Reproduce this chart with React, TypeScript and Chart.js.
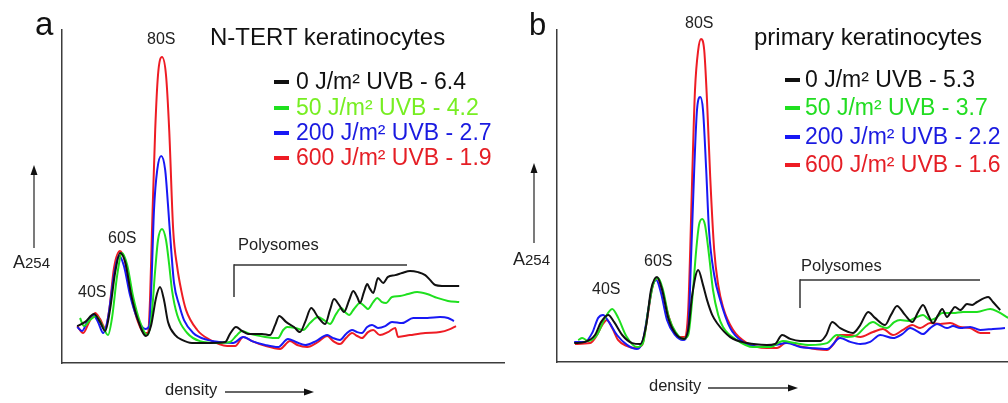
import React, { useEffect, useRef } from 'react';
import { Chart, registerables } from 'chart.js';

Chart.register(...registerables);

const FONT = '"Liberation Sans", Arial, Helvetica, sans-serif';

// ---------- Panel a: N-TERT keratinocytes (density, A254 in arbitrary units) ----------
const aBlackX = [3.8, 5.8, 8.0, 9.5, 10.8, 12.0, 13.3, 14.5, 15.8, 17.3, 19.0, 21.0, 22.3, 23.5, 24.5, 25.5, 26.5, 28.3, 30.0, 32.5, 37.0, 40.8, 42.0, 43.5, 45.0, 46.5, 50.0, 52.0, 53.3, 54.3, 56.0, 58.0, 59.5, 60.8, 62.3, 64.0, 65.8, 67.0, 68.0, 69.3, 70.5, 71.8, 72.8, 73.8, 74.5, 75.5, 76.3, 77.0, 77.8, 79.0, 80.3, 81.5, 83.3, 85.0, 87.0, 89.0, 90.8, 92.0, 93.3, 95.0, 99.3];
const aBlackY = [12.3, 13.7, 16.3, 13.7, 10.7, 17.7, 30.3, 36.7, 33.7, 22.7, 14.3, 9.0, 12.7, 21.7, 25.3, 21.0, 13.7, 9.3, 7.7, 6.7, 6.7, 7.0, 9.7, 12.0, 10.7, 9.7, 9.7, 9.3, 12.7, 15.7, 13.7, 12.0, 10.3, 13.7, 18.3, 15.3, 13.0, 17.7, 21.3, 19.3, 17.0, 21.0, 24.0, 22.0, 20.0, 23.7, 26.3, 24.7, 23.3, 28.3, 26.7, 28.7, 29.3, 30.0, 30.7, 30.3, 29.3, 27.7, 26.0, 25.7, 25.7];

const aGreenX = [4.5, 5.5, 7.0, 8.5, 10.0, 11.5, 12.5, 13.8, 15.0, 16.3, 17.8, 19.5, 21.3, 22.3, 23.3, 24.0, 25.0, 26.0, 26.8, 27.5, 28.8, 31.3, 34.5, 38.8, 42.0, 43.5, 45.0, 47.0, 50.8, 54.0, 55.3, 56.3, 58.3, 60.3, 62.0, 64.0, 65.5, 67.0, 68.5, 69.8, 71.0, 71.8, 73.0, 74.5, 75.8, 76.5, 77.8, 78.8, 80.0, 81.0, 82.5, 84.5, 86.5, 88.8, 91.3, 93.8, 96.5, 99.3];
const aGreenY = [15.0, 12.3, 14.3, 15.7, 12.7, 9.3, 15.0, 29.3, 36.7, 32.7, 22.0, 13.7, 9.3, 14.3, 31.0, 41.0, 44.7, 41.0, 32.7, 24.3, 16.0, 10.0, 7.3, 6.7, 7.0, 9.0, 10.7, 9.7, 8.7, 8.3, 11.0, 12.0, 11.7, 11.0, 13.3, 15.3, 14.3, 13.0, 16.3, 18.3, 16.7, 16.0, 18.0, 20.0, 18.7, 18.0, 20.3, 21.7, 20.3, 20.0, 22.0, 22.3, 23.0, 23.7, 23.0, 21.7, 20.7, 20.3];

const aBlueX = [3.8, 5.0, 6.5, 7.8, 9.0, 10.3, 11.5, 13.0, 14.3, 15.5, 17.0, 18.8, 20.8, 21.8, 22.3, 23.0, 23.8, 24.8, 25.8, 26.5, 27.3, 28.0, 29.3, 30.5, 32.8, 36.3, 39.5, 42.8, 45.3, 47.5, 50.8, 54.0, 56.5, 58.5, 60.8, 63.5, 66.3, 67.8, 69.5, 71.0, 72.5, 73.8, 75.0, 76.3, 77.5, 79.0, 80.8, 82.5, 85.0, 87.8, 91.3, 94.5, 96.5, 98.0];
const aBlueY = [12.0, 10.7, 14.3, 16.0, 13.7, 10.0, 15.0, 29.3, 35.7, 32.3, 22.7, 15.0, 11.3, 12.3, 24.3, 51.0, 64.3, 69.0, 64.3, 52.7, 37.7, 26.7, 19.3, 14.3, 10.0, 7.7, 7.0, 6.7, 8.7, 7.3, 6.0, 5.3, 8.0, 7.0, 6.0, 7.3, 9.3, 8.3, 7.7, 9.7, 11.0, 10.3, 10.0, 12.0, 12.7, 11.7, 12.3, 13.7, 13.3, 15.0, 15.0, 15.3, 15.0, 14.0];

const aRedX = [3.8, 5.3, 6.8, 8.3, 9.5, 10.8, 11.8, 13.0, 14.5, 15.8, 17.5, 19.0, 20.5, 21.5, 22.0, 22.5, 23.3, 24.0, 25.0, 26.0, 26.8, 27.8, 28.8, 29.8, 31.0, 33.8, 37.0, 41.3, 43.3, 45.3, 47.5, 50.8, 54.5, 57.0, 58.8, 61.3, 64.0, 66.3, 67.8, 69.5, 71.0, 72.5, 73.8, 75.0, 76.5, 77.8, 79.5, 81.5, 83.3, 84.0, 87.0, 90.8, 94.5, 97.0, 98.5];
const aRedY = [12.3, 10.0, 13.7, 16.7, 14.7, 11.7, 17.7, 31.7, 37.3, 33.7, 21.0, 13.7, 10.0, 10.0, 21.0, 44.3, 77.7, 96.0, 102.0, 96.0, 77.7, 44.3, 32.0, 24.3, 17.7, 11.0, 7.7, 5.7, 5.7, 8.7, 7.3, 5.7, 4.7, 7.3, 6.0, 5.3, 7.0, 9.0, 7.3, 6.3, 8.3, 10.0, 9.0, 8.3, 10.3, 11.0, 9.3, 10.3, 11.7, 8.7, 9.3, 10.0, 10.3, 11.3, 12.3];

// ---------- Panel b: primary keratinocytes ----------
const bBlackX = [4.3, 7.0, 9.5, 11.0, 12.8, 14.3, 16.3, 18.8, 20.8, 22.3, 23.5, 25.0, 26.3, 27.8, 29.5, 31.8, 32.8, 33.8, 35.3, 36.5, 37.5, 38.8, 40.0, 43.3, 47.5, 52.5, 54.5, 56.3, 58.3, 60.8, 65.8, 67.3, 68.8, 70.8, 74.0, 75.8, 77.8, 79.5, 82.0, 83.5, 85.0, 87.0, 88.8, 90.3, 91.5, 92.8, 94.0, 95.3, 96.3, 97.5, 98.5, 99.5, 100.8, 102.5, 103.8, 105.0, 107.8, 109.0, 110.8];
const bBlackY = [6.3, 6.7, 9.0, 13.3, 15.7, 13.3, 9.0, 6.3, 6.0, 12.3, 24.0, 28.3, 24.0, 14.7, 9.7, 7.7, 10.7, 22.3, 30.7, 25.7, 20.7, 15.7, 13.0, 8.3, 6.3, 5.7, 6.0, 9.0, 7.7, 7.0, 7.0, 9.0, 13.3, 11.3, 9.7, 12.3, 16.7, 14.7, 12.3, 15.7, 18.7, 15.7, 13.3, 16.7, 19.0, 15.7, 13.0, 15.7, 17.7, 15.0, 16.7, 18.3, 17.3, 19.3, 19.0, 20.0, 21.7, 20.0, 17.3];

const bGreenX = [5.3, 6.3, 7.8, 10.0, 12.0, 13.8, 15.3, 17.3, 20.0, 21.5, 22.8, 24.0, 25.3, 26.5, 28.0, 29.8, 31.5, 32.8, 33.8, 34.8, 35.5, 36.3, 37.0, 38.0, 39.0, 40.3, 41.5, 45.0, 49.0, 53.3, 56.5, 59.5, 63.3, 67.5, 70.0, 72.5, 75.0, 77.3, 79.0, 80.8, 82.5, 84.3, 85.8, 87.8, 89.5, 91.5, 93.3, 94.8, 96.3, 99.0, 101.5, 105.0, 108.3, 110.3, 112.8];
const bGreenY = [7.3, 8.0, 7.0, 9.0, 14.7, 17.7, 14.7, 8.7, 5.0, 6.3, 17.3, 25.7, 28.0, 24.0, 14.7, 9.7, 7.7, 9.0, 20.7, 37.3, 45.7, 47.7, 45.7, 35.7, 24.0, 15.7, 11.7, 7.3, 5.0, 5.0, 7.0, 6.3, 5.7, 6.3, 9.0, 8.3, 9.0, 12.0, 13.3, 12.0, 11.3, 13.3, 14.0, 13.7, 14.7, 15.7, 14.0, 14.7, 16.3, 16.3, 16.7, 16.7, 17.7, 16.7, 14.7];

const bBlueX = [4.3, 7.0, 8.8, 10.3, 11.5, 13.0, 15.0, 17.5, 20.0, 21.5, 22.8, 23.8, 24.8, 26.0, 27.5, 29.5, 31.5, 32.8, 33.5, 34.3, 35.0, 35.8, 36.5, 37.3, 38.0, 39.3, 40.8, 43.3, 46.5, 50.8, 54.5, 57.5, 60.8, 63.3, 67.5, 70.8, 73.3, 75.8, 78.3, 80.8, 84.0, 86.3, 88.3, 90.0, 91.5, 93.3, 95.0, 97.5, 99.0, 100.8, 103.3, 105.8, 109.0, 112.0];
const bBlueY = [6.7, 6.7, 9.7, 14.7, 15.7, 13.3, 9.0, 5.7, 4.3, 7.3, 17.3, 25.0, 27.3, 23.0, 14.0, 9.0, 7.3, 10.7, 34.0, 64.0, 84.0, 88.3, 84.0, 64.0, 44.0, 29.0, 20.7, 11.3, 6.7, 5.0, 5.7, 6.3, 5.0, 4.7, 4.3, 8.0, 6.7, 6.0, 6.7, 9.0, 8.0, 9.3, 11.3, 10.3, 9.3, 11.3, 12.7, 11.3, 12.0, 11.3, 11.7, 10.7, 11.0, 11.3];

const bRedX = [4.5, 8.3, 10.0, 11.3, 12.5, 13.8, 15.3, 17.5, 19.5, 21.3, 22.5, 23.8, 25.0, 26.3, 27.8, 29.5, 31.0, 32.0, 32.8, 33.3, 33.8, 34.5, 35.3, 36.0, 36.8, 37.5, 38.3, 39.3, 40.3, 41.5, 44.0, 47.5, 52.5, 55.0, 57.5, 59.5, 61.5, 67.5, 69.0, 70.8, 73.3, 75.8, 79.0, 81.5, 84.0, 86.5, 88.8, 90.8, 93.3, 95.8, 98.3, 100.8, 103.3, 105.8, 108.3];
const bRedY = [6.0, 6.3, 9.0, 12.3, 14.0, 11.3, 7.3, 5.3, 4.7, 5.7, 14.0, 24.7, 28.0, 24.0, 15.7, 9.7, 8.3, 8.3, 17.3, 37.3, 61.7, 90.7, 104.0, 107.7, 104.0, 87.3, 61.7, 37.3, 25.7, 18.3, 10.7, 6.3, 4.7, 4.7, 6.7, 5.7, 5.0, 4.0, 5.7, 9.0, 9.0, 8.3, 10.0, 11.0, 9.0, 10.7, 12.3, 11.3, 13.0, 12.7, 13.0, 11.7, 11.3, 9.7, 9.7];

// ---------- Labels ----------
const seriesColors = ['#111111', '#1fe01f', '#1818f5', '#ee1c24'];
const aTitle = 'N-TERT keratinocytes';
const bTitle = 'primary keratinocytes';
const aLegendLabels = ['0 J/m² UVB - 6.4', '50 J/m² UVB - 4.2', '200 J/m² UVB - 2.7', '600 J/m² UVB - 1.9'];
const bLegendLabels = ['0 J/m² UVB - 5.3', '50 J/m² UVB - 3.7', '200 J/m² UVB - 2.2', '600 J/m² UVB - 1.6'];
const aLegendTextColors = ['#111111', '#77ee22', '#1a1ae0', '#e51e25'];
const bLegendTextColors = ['#111111', '#22dd22', '#1a1ae0', '#e51e25'];
const peakLabels = ['40S', '60S', '80S'];
const polysomeLabel = 'Polysomes';
const xAxisLabel = 'density';

type Series = { x: number[]; y: number[] };

function ProfileChart(props: {
  left: number; width: number; height: number;
  pad: { left: number; top: number; right: number; bottom: number };
  xMax: number; yMax: number; series: Series[];
}) {
  const ref = useRef<HTMLCanvasElement | null>(null);
  useEffect(() => {
    if (!ref.current) return;
    const chart = new Chart(ref.current, {
      type: 'line',
      data: {
        datasets: props.series.map((s, i) => ({
          data: s.x.map((x, j) => ({ x, y: s.y[j] })),
          borderColor: seriesColors[i],
          borderWidth: 2,
          pointRadius: 0,
          fill: false,
          cubicInterpolationMode: 'monotone' as const,
        })),
      },
      options: {
        animation: false,
        responsive: false,
        events: [],
        layout: { padding: props.pad },
        plugins: { legend: { display: false }, tooltip: { enabled: false } },
        scales: {
          x: {
            type: 'linear', min: 0, max: props.xMax,
            grid: { display: false, drawTicks: false },
            border: { display: true, color: '#3c3c3c', width: 1.5 },
            ticks: { display: false },
          },
          y: {
            type: 'linear', min: 0, max: props.yMax,
            grid: { display: false, drawTicks: false },
            border: { display: true, color: '#3c3c3c', width: 1.5 },
            ticks: { display: false },
          },
        },
      },
    });
    return () => chart.destroy();
  }, []);
  return (
    <canvas
      ref={ref}
      width={props.width}
      height={props.height}
      style={{ position: 'absolute', left: props.left, top: 0, width: props.width, height: props.height, display: 'block' }}
    />
  );
}

function Txt(props: { x: number; base: number; size: number; color?: string; children: React.ReactNode }) {
  return (
    <div
      style={{
        position: 'absolute', left: props.x, top: props.base - 0.8465 * props.size,
        fontSize: props.size, lineHeight: `${props.size}px`, fontFamily: FONT,
        color: props.color || '#222', whiteSpace: 'nowrap',
      }}
    >
      {props.children}
    </div>
  );
}

function Legend(props: { markerX: number; textX: number; bases: number[]; labels: string[]; colors: string[]; size: number; dy: number }) {
  return (
    <>
      {props.labels.map((l, i) => (
        <React.Fragment key={i}>
          <div style={{ position: 'absolute', left: props.markerX, top: props.bases[i] - props.dy - 2, width: 15, height: 4, background: seriesColors[i] }} />
          <Txt x={props.textX} base={props.bases[i]} size={props.size} color={props.colors[i]}>{l}</Txt>
        </React.Fragment>
      ))}
    </>
  );
}

function A254(props: { x: number; base: number }) {
  return (
    <Txt x={props.x} base={props.base} size={18}>
      A<span style={{ fontSize: 15 }}>254</span>
    </Txt>
  );
}

export default function App() {
  const stroke = '#333';
  return (
    <div style={{ position: 'absolute', left: 0, top: 0, width: 1008, height: 403, background: '#fff', overflow: 'hidden' }}>
      <ProfileChart
        left={0} width={505} height={403}
        pad={{ left: 62, top: 30, right: 0, bottom: 40 }}
        xMax={110.75} yMax={111}
        series={[{ x: aBlackX, y: aBlackY }, { x: aGreenX, y: aGreenY }, { x: aBlueX, y: aBlueY }, { x: aRedX, y: aRedY }]}
      />
      <ProfileChart
        left={505} width={503} height={403}
        pad={{ left: 52, top: 30, right: 0, bottom: 41 }}
        xMax={112.75} yMax={110.67}
        series={[{ x: bBlackX, y: bBlackY }, { x: bGreenX, y: bGreenY }, { x: bBlueX, y: bBlueY }, { x: bRedX, y: bRedY }]}
      />
      <svg width={1008} height={403} style={{ position: 'absolute', left: 0, top: 0 }}>
        {/* panel a */}
        <line x1={234} y1={265} x2={407} y2={265} stroke={stroke} strokeWidth={1.5} />
        <line x1={234} y1={264.3} x2={234} y2={297} stroke={stroke} strokeWidth={1.5} />
        <line x1={34} y1={248} x2={34} y2={172} stroke={stroke} strokeWidth={1.3} />
        <polygon points="34,165 30.5,175 37.5,175" fill="#111" />
        <line x1={225} y1={392} x2={306} y2={392} stroke={stroke} strokeWidth={1.3} />
        <polygon points="314,392 304,388.5 304,395.5" fill="#111" />
        {/* panel b */}
        <line x1={800} y1={280} x2={980} y2={280} stroke={stroke} strokeWidth={1.5} />
        <line x1={800} y1={279.3} x2={800} y2={308} stroke={stroke} strokeWidth={1.5} />
        <line x1={534} y1={243} x2={534} y2={170} stroke={stroke} strokeWidth={1.3} />
        <polygon points="534,163 530.5,173 537.5,173" fill="#111" />
        <line x1={708} y1={388} x2={790} y2={388} stroke={stroke} strokeWidth={1.3} />
        <polygon points="798,388 788,384.5 788,391.5" fill="#111" />
      </svg>

      {/* panel a texts */}
      <Txt x={35} base={35} size={33} color="#111">a</Txt>
      <Txt x={210} base={45} size={24} color="#111">{aTitle}</Txt>
      <Txt x={78} base={298} size={16}>{peakLabels[0]}</Txt>
      <Txt x={108} base={244} size={16}>{peakLabels[1]}</Txt>
      <Txt x={147} base={45} size={16}>{peakLabels[2]}</Txt>
      <Txt x={238} base={250} size={16.5}>{polysomeLabel}</Txt>
      <Txt x={165} base={395} size={16.5}>{xAxisLabel}</Txt>
      <A254 x={13} base={268} />
      <Legend markerX={274} textX={296} bases={[89, 115, 140, 165]} labels={aLegendLabels} colors={aLegendTextColors} size={23} dy={7.5} />

      {/* panel b texts */}
      <Txt x={529} base={35} size={31} color="#111">b</Txt>
      <Txt x={754} base={45} size={24} color="#111">{bTitle}</Txt>
      <Txt x={592} base={295} size={16}>{peakLabels[0]}</Txt>
      <Txt x={644} base={267} size={16}>{peakLabels[1]}</Txt>
      <Txt x={685} base={29} size={16}>{peakLabels[2]}</Txt>
      <Txt x={801} base={271} size={16.5}>{polysomeLabel}</Txt>
      <Txt x={649} base={391} size={16.5}>{xAxisLabel}</Txt>
      <A254 x={513} base={265} />
      <Legend markerX={785} textX={805} bases={[87, 115, 144, 172]} labels={bLegendLabels} colors={bLegendTextColors} size={23} dy={7} />
    </div>
  );
}
